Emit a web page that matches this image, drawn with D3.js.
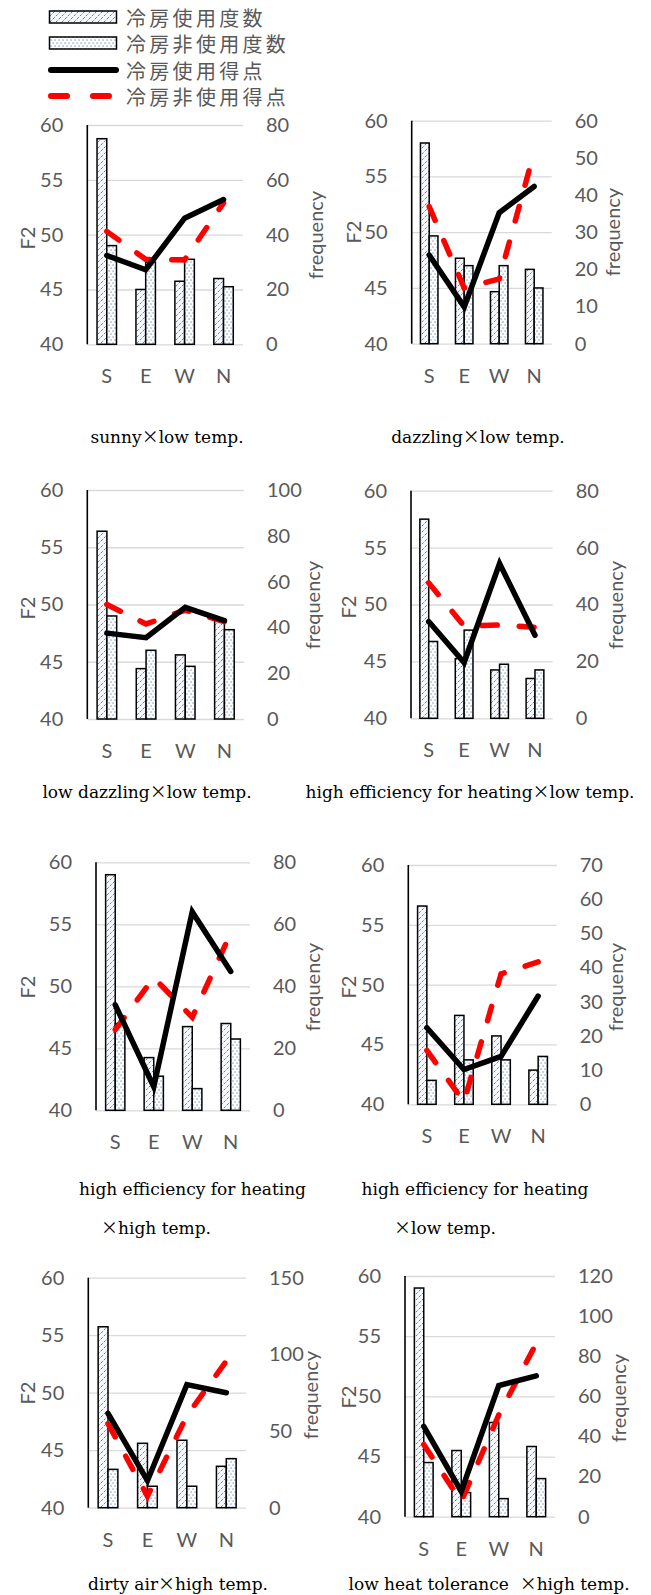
<!DOCTYPE html>
<html>
<head>
<meta charset="utf-8">
<script src="https://cdn.jsdelivr.net/npm/d3@7"></script>
<style>
body { margin: 0; background: #fff; }
</style>
</head>
<body>
<svg id="chart" width="651" height="1595"></svg>
<script>
// data
const categories = ["S", "E", "W", "N"];
const seriesNames = ["冷房使用度数", "冷房非使用度数", "冷房使用得点", "冷房非使用得点"];
const titles = [
	["sunny×low temp."],
	["dazzling×low temp."],
	["low dazzling×low temp."],
	["high efficiency for heating×low temp."],
	["high efficiency for heating", "×high temp."],
	["high efficiency for heating", "×low temp."],
	["dirty air×high temp."],
	["low heat tolerance\u00a0 ×high temp."]
];
const usedFreq = [
	[75, 20, 23, 24],
	[54, 23, 14, 20],
	[82, 22, 28, 43],
	[70, 21, 17, 14],
	[76, 17, 27, 28],
	[58, 26, 20, 10],
	[118, 42, 44, 27],
	[114, 33, 47, 35]
];
const nonUsedFreq = [
	[36, 30, 31, 21],
	[29, 21, 21, 15],
	[45, 30, 23, 39],
	[27, 31, 19, 17],
	[28, 11, 7, 23],
	[7, 13, 13, 14],
	[25, 14, 14, 32],
	[27, 12, 9, 19]
];
const usedScore = [
	[48.1, 46.8, 51.5, 53.2],
	[47.95, 43.3, 51.75, 54.1],
	[47.5, 47.1, 49.75, 48.6],
	[48.5, 44.9, 53.6, 47.3],
	[48.5, 41.9, 56.0, 51.2],
	[46.4, 42.9, 44.0, 49.05],
	[48.2, 42.35, 50.7, 50.0],
	[47.5, 42.1, 50.9, 51.7]
];
const nonUsedScore = [
	[50.3, 47.75, 47.7, 52.9],
	[52.3, 45.0, 45.8, 57.2],
	[50.0, 48.3, 49.5, 48.5],
	[51.9, 48.1, 48.2, 48.0],
	[46.5, 50.7, 47.5, 54.3],
	[44.5, 40.2, 50.9, 51.9],
	[47.3, 41.0, 48.0, 52.75],
	[46.0, 41.25, 48.45, 54.4]
];
const scoreTicks = [40, 45, 50, 55, 60];
const freqMax = [80, 60, 100, 80, 80, 70, 150, 120];
const freqStep = [20, 10, 20, 20, 20, 10, 50, 20];

// where each little chart sits on the page
const panels = [
	{x0: 87.3, x1: 243, y0: 125, y1: 344.3, f2: [27, 238], fr: [315, 235], tl: [[167, 443]]},
	{x0: 411.7, x1: 551.7, y0: 120.7, y1: 343.7, f2: [353, 232], fr: [612, 232], tl: [[478, 443]]},
	{x0: 87.3, x1: 244, y0: 490, y1: 719, f2: [27, 608], fr: [312, 605], tl: [[147, 798]]},
	{x0: 411, x1: 552.7, y0: 490.7, y1: 718.3, f2: [348, 607], fr: [615, 605], tl: [[470, 798]]},
	{x0: 96, x1: 250, y0: 862.3, y1: 1110.3, f2: [27, 987], fr: [312, 987], tl: [[192.5, 1195], [156, 1234]]},
	{x0: 408.3, x1: 556.7, y0: 865, y1: 1104.3, f2: [348, 987], fr: [615, 987], tl: [[475, 1195], [445, 1234]]},
	{x0: 88.3, x1: 246, y0: 1277.7, y1: 1507.7, f2: [27, 1393], fr: [310, 1395], tl: [[178, 1590]]},
	{x0: 405, x1: 555, y0: 1276, y1: 1516.7, f2: [348, 1397], fr: [618, 1398], tl: [[489, 1590]]}
];

const blue = "#4472C4";
const grey = "#595959";
const tickFont = "Lato, 'Open Sans', sans-serif";
const titleFont = "'DejaVu Serif', serif";
const cjkFont = "'Noto Sans CJK JP', sans-serif";

// small stand-in for d3-selection-multi
d3.selection.prototype.attrs = function(obj) {
	for (const k in obj) this.attr(k, obj[k]);
	return this;
};

const svg = d3.select("#chart");

function make_patterns() {
	const defs = svg.append("defs");
	const hatch = defs.append("pattern")
		.attrs({id: "hatch", patternUnits: "userSpaceOnUse", width: 6, height: 6});
	hatch.append("rect").attrs({width: 6, height: 6, fill: "#f4f7fc"});
	hatch.append("path")
		.attrs({d: "M-1,7 L7,-1 M-1,1 L1,-1 M5,7 L7,5", stroke: blue, "stroke-width": 0.9,
			"stroke-dasharray": "2.5,1.5"});

	const dots = defs.append("pattern")
		.attrs({id: "dots", patternUnits: "userSpaceOnUse", width: 4, height: 6});
	dots.append("rect").attrs({width: 4, height: 6, fill: "#fff"});
	dots.append("rect").attrs({x: 0.5, y: 0.5, width: 1.1, height: 1.1, fill: blue});
	dots.append("rect").attrs({x: 2.5, y: 3.5, width: 1.1, height: 1.1, fill: blue});
}

function draw_legend() {
	const g = svg.append("g");
	const ys = [17, 43, 70, 96];
	g.append("rect").attrs({x: 49.5, y: ys[0] - 6, width: 67, height: 12, fill: "url(#hatch)", stroke: "#000", "stroke-width": 1.5});
	g.append("rect").attrs({x: 49.5, y: ys[1] - 6, width: 67, height: 12, fill: "url(#dots)", stroke: "#000", "stroke-width": 1.5});
	g.append("line").attrs({x1: 51, x2: 116, y1: ys[2], y2: ys[2], stroke: "#000", "stroke-width": 6, "stroke-linecap": "round"});
	g.append("line").attrs({x1: 51, x2: 116, y1: ys[3], y2: ys[3], stroke: "#f00", "stroke-width": 6,
		"stroke-linecap": "round", "stroke-dasharray": "16,26"});
	g.selectAll("text")
		.data(seriesNames).enter()
		.append("text")
		.attrs({x: 126, y: (d, i) => ys[i], "dominant-baseline": "central", fill: grey,
			"font-family": cjkFont, "font-size": 20, "letter-spacing": 3.3})
		.text(d => d);
}

function draw_panel(i) {
	const p = panels[i];
	const g = svg.append("g");

	const x = d3.scaleBand().domain(categories).range([p.x0, p.x1]);
	const sub = d3.scaleBand().domain(["used", "non"]).range([0, x.bandwidth()]).paddingOuter(1);
	const yScore = d3.scaleLinear().domain([40, 60]).range([p.y1, p.y0]);
	const yFreq = d3.scaleLinear().domain([0, freqMax[i]]).range([p.y1, p.y0]);

	// gridlines
	const grid = g.append("g")
		.attr("transform", `translate(${p.x0},0)`)
		.call(d3.axisLeft(yScore).tickValues(scoreTicks).tickSize(-(p.x1 - p.x0)).tickFormat(""));
	grid.select(".domain").remove();
	grid.selectAll("line").attrs({stroke: "#d9d9d9", "stroke-width": 1.3});

	// left axis labels
	const left = g.append("g")
		.attr("transform", `translate(${p.x0},0)`)
		.call(d3.axisLeft(yScore).tickValues(scoreTicks).tickSize(0).tickPadding(24));
	left.select(".domain").remove();
	left.selectAll("text").attrs({fill: grey, "font-size": 20, "font-family": tickFont});

	// right axis labels
	const right = g.append("g")
		.attr("transform", `translate(${p.x1},0)`)
		.call(d3.axisRight(yFreq).tickValues(d3.range(0, freqMax[i] + 1, freqStep[i])).tickSize(0).tickPadding(23));
	right.select(".domain").remove();
	right.selectAll("text").attrs({fill: grey, "font-size": 20, "font-family": tickFont});

	// categories
	const bottom = g.append("g")
		.attr("transform", `translate(0,${p.y1})`)
		.call(d3.axisBottom(x).tickSize(0));
	bottom.select(".domain").remove();
	bottom.selectAll("text").attrs({y: 32, dy: "0.35em", fill: grey, "font-size": 20, "font-family": tickFont});

	// bars
	const rows = categories.map((c, k) => ({c: c, used: usedFreq[i][k], non: nonUsedFreq[i][k]}));
	g.selectAll(".used")
		.data(rows).enter()
		.append("rect")
		.attrs({
			x: d => x(d.c) + sub("used"),
			y: d => yFreq(d.used),
			width: sub.bandwidth(),
			height: d => p.y1 - yFreq(d.used),
			fill: "url(#hatch)",
			stroke: "#000",
			"stroke-width": 1.5
		});
	g.selectAll(".non")
		.data(rows).enter()
		.append("rect")
		.attrs({
			x: d => x(d.c) + sub("non"),
			y: d => yFreq(d.non),
			width: sub.bandwidth(),
			height: d => p.y1 - yFreq(d.non),
			fill: "url(#dots)",
			stroke: "#000",
			"stroke-width": 1.5
		});

	// left axis line
	g.append("line").attrs({x1: p.x0, x2: p.x0, y1: p.y0, y2: p.y1, stroke: "#000", "stroke-width": 1.6});

	const line = d3.line()
		.x((d, k) => x(categories[k]) + x.bandwidth() / 2)
		.y(d => yScore(d));

	g.append("path")
		.attrs({d: line(nonUsedScore[i]), fill: "none", stroke: "#f00", "stroke-width": 5.5,
			"stroke-linecap": "round", "stroke-dasharray": "15,22"});
	g.append("path")
		.attrs({d: line(usedScore[i]), fill: "none", stroke: "#000", "stroke-width": 5.5,
			"stroke-linecap": "round"});

	// axis titles
	g.append("text")
		.attrs({transform: `translate(${p.f2[0]},${p.f2[1]}) rotate(-90)`, "text-anchor": "middle",
			"dominant-baseline": "central", fill: grey, "font-size": 20, "font-family": tickFont})
		.text("F2");
	g.append("text")
		.attrs({transform: `translate(${p.fr[0]},${p.fr[1]}) rotate(-90)`, "text-anchor": "middle",
			"dominant-baseline": "central", fill: grey, "font-size": 20, "font-family": tickFont})
		.text("frequency");

	// chart title under the chart
	titles[i].forEach((t, k) => {
		const txt = g.append("text")
			.attrs({x: p.tl[k][0], y: p.tl[k][1], "text-anchor": "middle", fill: "#000",
				"font-size": 17, "font-family": titleFont})
			.style("white-space", "pre");
		t.split("×").forEach((part, j) => {
			if (j > 0) txt.append("tspan").attr("font-family", cjkFont).text("×");
			txt.append("tspan").text(part);
		});
	});
}

make_patterns();
draw_legend();
for (let i = 0; i < panels.length; i++) {
	draw_panel(i);
}
</script>
</body>
</html>
